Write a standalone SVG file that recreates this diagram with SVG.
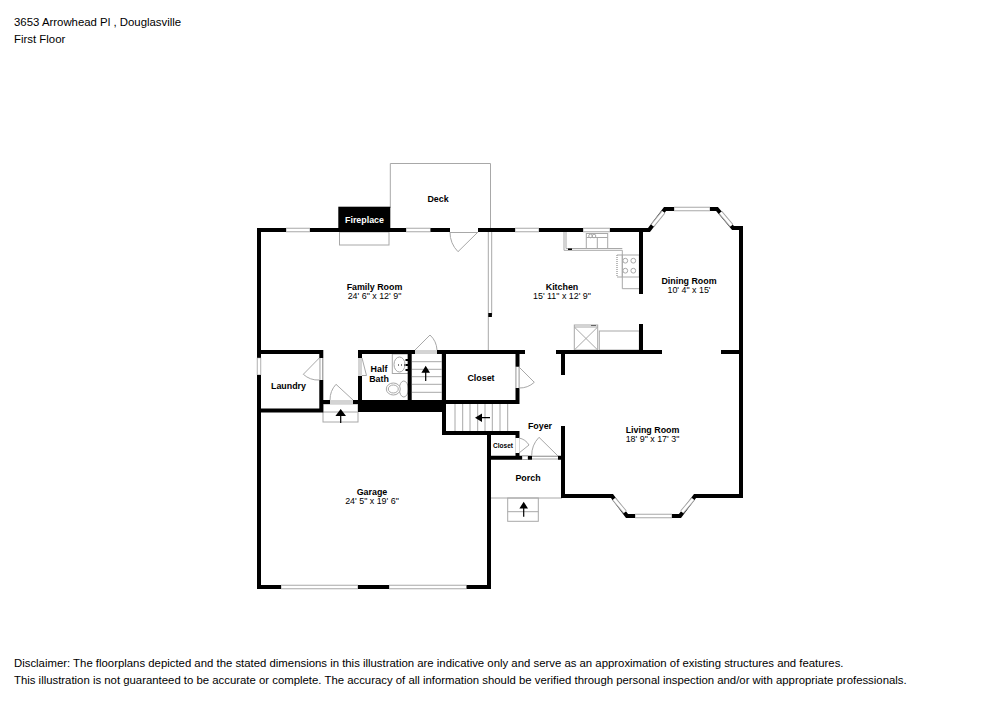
<svg xmlns="http://www.w3.org/2000/svg" width="1000" height="707" viewBox="0 0 1000 707">
<style>
text{font-family:"Liberation Sans",Arial,sans-serif;fill:#000}
.h{font-size:11.4px}
.d{font-size:11.36px}
.n{font-size:8.9px;font-weight:bold;text-anchor:middle}
.s{font-size:8.9px;text-anchor:middle}
.wall{fill:none;stroke:#000;stroke-width:4;stroke-linejoin:miter;stroke-linecap:butt}
.g{fill:none;stroke:#a8a8a8;stroke-width:1}
.gw{fill:#fff;stroke:#a8a8a8;stroke-width:1}
.wo{fill:none;stroke:#a8a8a8;stroke-width:4.4}
.wi{fill:none;stroke:#fff;stroke-width:2.6}
</style>
<rect width="1000" height="707" fill="#fff"/>
<g id="header">
<text class="h" x="14" y="26">3653 Arrowhead Pl , Douglasville</text>
<text class="h" x="14" y="43">First Floor</text>
</g>
<g id="fixtures">
<path class="g" d="M390.3 208V163.5H490.5V228"/>
<path class="g" d="M488.3 232V350M491.7 232V315"/>
<rect x="488.3" y="313" width="3.6" height="4" fill="#000"/>
<rect class="g" x="339.5" y="232" width="49.5" height="13"/>
<path class="g" d="M564 232V250.300H622.300V288.700H639M566 232V248.500H622.300"/>
<rect class="g" x="586.300" y="233.500" width="21.400" height="15"/>
<path class="g" d="M597.300 237.500V248.500M586.300 237.500H607.700"/>
<circle class="g" cx="590.500" cy="236" r="1.800"/><circle class="g" cx="594" cy="236" r="1.800"/>
<rect x="568" y="248.500" width="4" height="1.500" fill="#000"/>
<rect class="g" x="622.300" y="255" width="17" height="22"/>
<path d="M617 255V277" fill="none" stroke="#777" stroke-width="1" stroke-dasharray="1 1"/>
<path class="g" d="M617 255H622M617 277H622"/>
<circle class="g" cx="625.300" cy="260.700" r="2.400"/><circle class="g" cx="633.300" cy="260.700" r="2.400"/>
<circle class="g" cx="625.300" cy="270.700" r="2.400"/><circle class="g" cx="633.300" cy="270.700" r="2.400"/>
<rect class="g" x="574.300" y="325" width="23.400" height="25"/>
<path class="g" d="M574.300 327H597.700M574.300 327L597.700 350M597.700 327L574.300 350"/>
<rect x="591" y="325" width="5" height="1" fill="#666"/>
<rect class="g" x="599.300" y="331" width="40" height="19"/>
<rect class="g" x="392.300" y="354" width="16" height="19.500"/>
<ellipse class="g" cx="399.500" cy="364.500" rx="5.500" ry="7.500"/>
<path d="M398 365h8" stroke="#000" stroke-width="1" stroke-dasharray="1 2" fill="none"/>
<path d="M405.500 360h2.500M405.500 365h2.500M405.500 370h2.500" stroke="#000" stroke-width="2" fill="none"/>
<ellipse class="gw" cx="403.800" cy="389" rx="4.500" ry="8"/>
<ellipse class="gw" cx="393.300" cy="389" rx="7" ry="6"/>
<ellipse class="g" cx="393.300" cy="389" rx="5" ry="4"/>
<path class="g" d="M412 361.700H442M412 369.300H442M412 376.700H442M412 384.300H442M412 392.300H442M442 354V400"/>
<path class="g" d="M455 404V431M462.700 404V431M470 404V431M477.700 404V431M485 404V431M492.300 404V431M500 404V431M507.700 404V431"/>
<rect class="g" x="323" y="404" width="35" height="18"/>
<path class="g" d="M323 412H358"/>
<rect class="g" x="507.700" y="498" width="30.600" height="23.300"/>
<path class="g" d="M507.700 511.700H538.300M491 498H562"/>
<path d="M425.700 365.700l4.300 7h-3.700v8.300h-1.200v-8.300h-3.700z" fill="#000"/>
<path d="M475 417.700l7-4.200v3.600h8v1.200h-8v3.600z" fill="#000"/>
<path d="M340.700 409l5.300 7h-4.700v7h-1.200v-7h-4.700z" fill="#000"/>
<path d="M523.700 501.700l4.300 6.700h-3.700v8.300h-1.200v-8.300h-3.700z" fill="#000"/>
</g>
<g id="walls">
<rect x="338.300" y="206.700" width="52" height="25" fill="#000"/>
<rect x="358" y="400" width="87" height="12" fill="#000"/>
<path class="wall" d="M647 230H259V587H489V431"/>
<path class="wall" d="M489 230H649L665 209H717L733 228H741V496H695L680 516H627L612 496H563V426"/>
<path class="wall" d="M641 230V294M641 324V352M556 352H662M721 352H741"/>
<path class="wall" d="M563 352V375M444 352H525M444 352V433H517.500V456M517.500 352V402H444"/>
<path class="wall" d="M257 352H321.300V410.500H257M321.300 402H358M360 352V402M358 352H415M437 352H444M409.700 352V402"/>
<path class="wall" d="M489 457.700H563"/>
</g>
<g id="windows">
<path class="wo" d="M286 230H310M406 230H430.600M515 230H539M583 230H610M674 209H710M652.500 225.500L663.500 212M720.500 212.500L731.500 225.500M635 516H672M614 499L625 512M682 512L693 499M259 357.700V375M281 587H358M389 587H466.700M522 457.700H528"/>
<path class="wi" d="M286.500 230H309.500M406.500 230H430M515.500 230H538.500M583.500 230H609.500M674.500 209H709.500M652.500 225.500L663.500 212M720.500 212.500L731.500 225.500M635.500 516H671.500M614 499L625 512M682 512L693 499M259 358.200V374.500M281.500 587H357.500M389.500 587H466M522.500 457.700H527.500"/>
</g>
<g id="doors">
<path d="M450 230H478M415 352H437M321.300 358V380M330 402H353M360 358V376M517.500 366.700V388M517.500 438V453M532 457.700H558" stroke="#fff" stroke-width="4.400" fill="none"/>
<path class="g" d="M450 232.500H478M415 351H437M415 353H437M320 358V380M322.500 358V380M330 401H353M330 403H353M359 358V376M361 358V376M516 367V388M519 367V388M532 456.500H558M532 459H558"/>
<path class="g" d="M478 232L458 251.700A28 28 0 0 1 450 232"/>
<path class="g" d="M415 350L430 335A22 22 0 0 1 437 350"/>
<path class="g" d="M319.300 358L303.300 374.300A22 22 0 0 0 319.300 380"/>
<path class="g" d="M353 400L336 384.300A23 23 0 0 0 330 400"/>
<path class="g" d="M362 358L366.500 375.500H362"/>
<path class="g" d="M519 367L534.300 382.300A22 22 0 0 1 519 388"/>
<path class="g" d="M519 453L529 445A15 15 0 0 0 519 438"/>
<path class="g" d="M558 456L539 437.300A26 26 0 0 0 531.700 456"/>
</g>
<g id="labels">
<text class="n" x="364.500" y="222.500" style="fill:#fff">Fireplace</text>
<text class="n" x="438" y="202">Deck</text>
<g id="family-room"><text class="n" x="374.500" y="290">Family Room</text><text class="s" x="374.500" y="299">24' 6" x 12' 9"</text></g>
<g id="kitchen"><text class="n" x="562" y="290">Kitchen</text><text class="s" x="562" y="299">15' 11" x 12' 9"</text></g>
<g id="dining-room"><text class="n" x="689" y="284">Dining Room</text><text class="s" x="689" y="293">10' 4" x 15'</text></g>
<g id="half-bath"><text class="n" x="379" y="372">Half</text><text class="n" x="379" y="382">Bath</text></g>
<g id="laundry"><text class="n" x="288.500" y="389">Laundry</text></g>
<g id="closet"><text class="n" x="481" y="380.500">Closet</text></g>
<g id="small-closet"><text class="n" x="503" y="448" style="font-size:6.500px">Closet</text></g>
<g id="foyer"><text class="n" x="540" y="429">Foyer</text></g>
<g id="porch"><text class="n" x="528" y="481">Porch</text></g>
<g id="living-room"><text class="n" x="652.500" y="433">Living Room</text><text class="s" x="652.500" y="442">18' 9" x 17' 3"</text></g>
<g id="garage"><text class="n" x="372" y="495">Garage</text><text class="s" x="372" y="504">24' 5" x 19' 6"</text></g>
</g>
<g id="disclaimer">
<text class="d" x="14" y="667">Disclaimer: The floorplans depicted and the stated dimensions in this illustration are indicative only and serve as an approximation of existing structures and features.</text>
<text class="d" x="14" y="684">This illustration is not guaranteed to be accurate or complete. The accuracy of all information should be verified through personal inspection and/or with appropriate professionals.</text>
</g>
</svg>
